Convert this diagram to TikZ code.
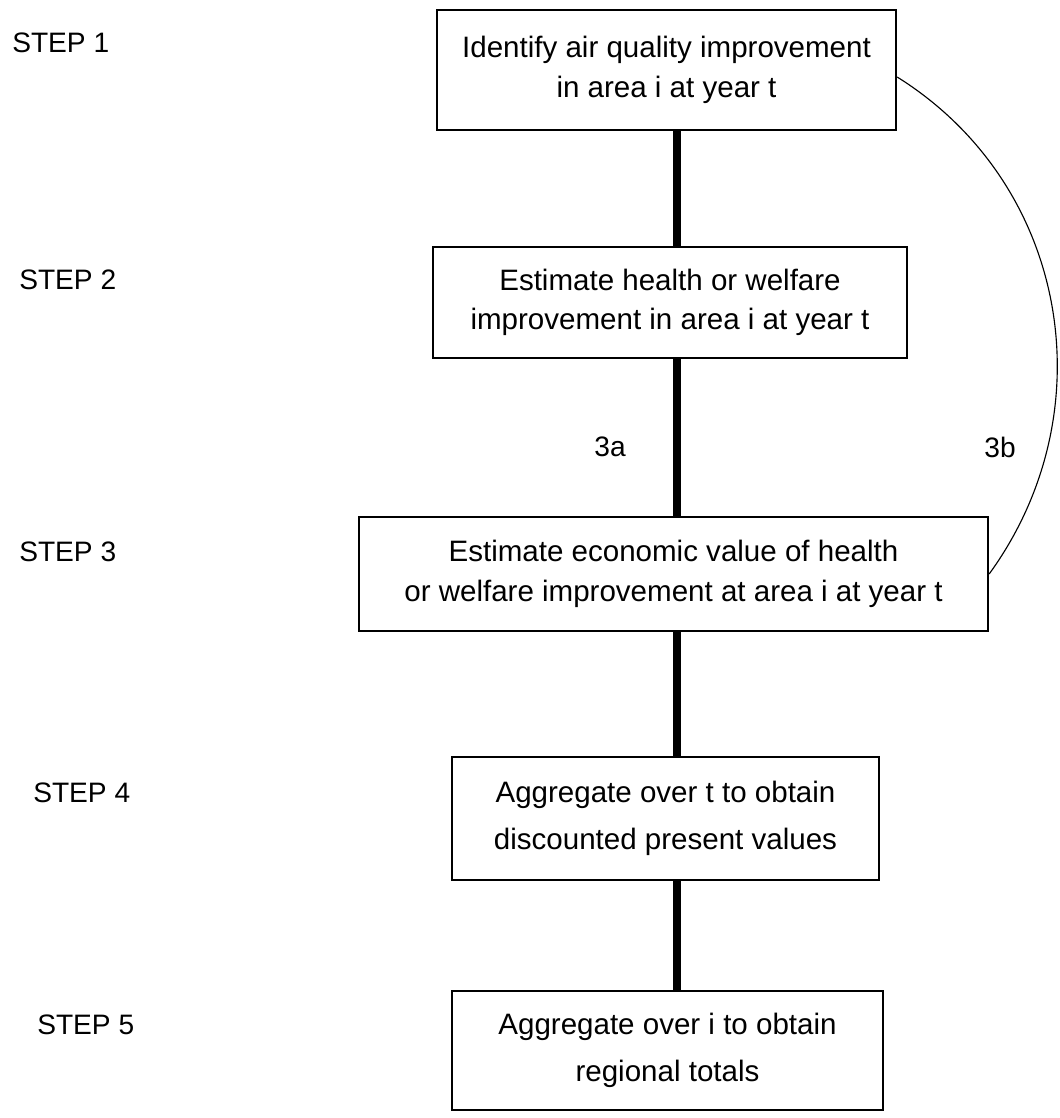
\documentclass[tikz,border=0pt]{standalone}
\usepackage{fontspec}
\setmainfont{Liberation Sans}% Arial widths
\usetikzlibrary{calc}
\tikzset{every node/.style={font=\fontsize{20}{27}\selectfont},
  stepbox/.style={draw, line width=1.4pt, align=center, inner sep=0pt,
    font=\fontsize{21}{28}\selectfont},
  widebox/.style={stepbox, font=\fontsize{21}{33}\selectfont},
  steplabel/.style={anchor=west, inner sep=0pt},
  link/.style={line width=5.7pt},
  bypass/.style={line width=0.8pt}}

\begin{document}
\begin{tikzpicture}[x=0.025cm,y=-0.025cm]
\useasboundingbox (0,0) rectangle (1059,1118);
% the five boxes
\node[stepbox, minimum width=11.48cm, minimum height=3cm] (identify)
   at (666.5,70) {Identify air quality improvement\\in area i at year t};
\node[stepbox, minimum width=11.85cm, minimum height=2.78cm] (health)
   at (670,302.5) {Estimate health or welfare\\improvement in area i at year t};
\node[stepbox, minimum width=15.73cm, minimum height=2.85cm] (value)
   at (673.5,574) {Estimate economic value of health\\or welfare improvement at area i at year t};
\node[widebox, minimum width=10.68cm, minimum height=3.08cm] (aggt)
   at (665.5,818.5) {Aggregate over t to obtain\\discounted present values};
\node[widebox, minimum width=10.78cm, minimum height=2.98cm] (aggi)
   at (667.5,1050.5) {Aggregate over i to obtain\\regional totals};
% thick links
\coordinate (spine) at (677,0);
\draw[link] (identify.south -| spine) -- (health.north -| spine);
\draw[link] (health.south -| spine) -- (value.north -| spine);
\draw[link] (value.south -| spine) -- (aggt.north -| spine);
\draw[link] (aggt.south -| spine) -- (aggi.north -| spine);
% route 3b
\draw[bypass] ($(identify.east)+(0,7)$) to[out=-32,in=54,looseness=1.02] (value.east);
\node (la) at (610,447) {3a};
\node (lb) at (1000,447) {3b};
% step labels
\node[steplabel] (s1) at (12,43) {STEP 1};
\node[steplabel] (s2) at (19,280) {STEP 2};
\node[steplabel] (s3) at (19,552) {STEP 3};
\node[steplabel] (s4) at (33,793) {STEP 4};
\node[steplabel] (s5) at (37,1025) {STEP 5};
\end{tikzpicture}
\end{document}
